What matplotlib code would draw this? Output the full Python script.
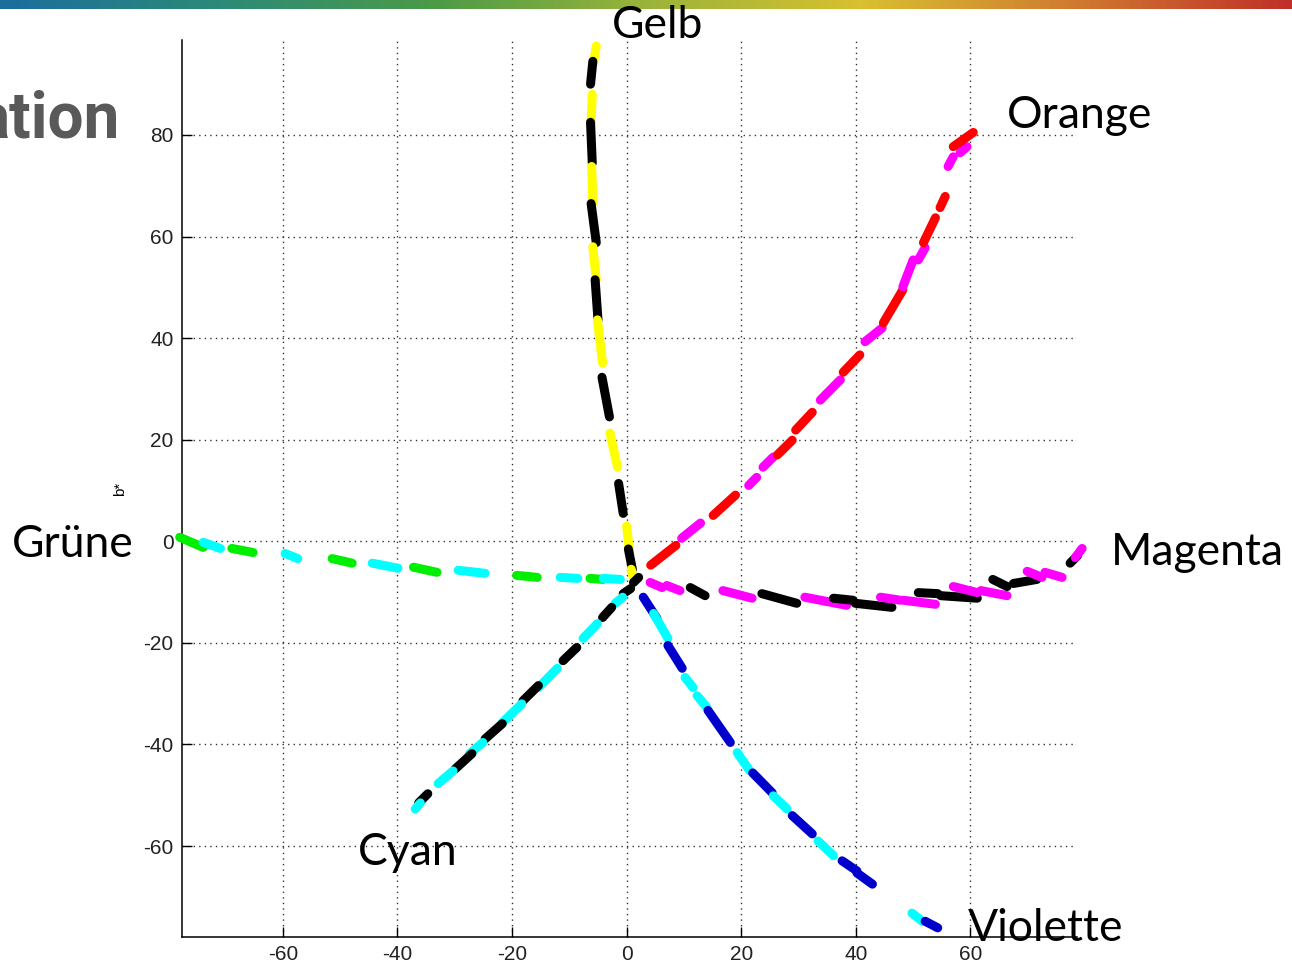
import numpy as np
import matplotlib
matplotlib.use('Agg')
import matplotlib.pyplot as plt
from matplotlib.colors import LinearSegmentedColormap

plt.rcParams['axes.unicode_minus'] = False

# dashes per hue line: (a* start, b* start, a* end, b* end, colour code)
gelb = [(-5.3, 97.5, -5.8, 94.0, 'y'), (-5.9, 94.5, -6.3, 90.0, 'k'),
        (-6.0, 88.0, -6.2, 82.5, 'y'), (-6.3, 82.5, -6.0, 74.5, 'k'),
        (-6.1, 73.8, -5.9, 66.7, 'y'), (-6.2, 66.5, -5.3, 58.8, 'k'),
        (-5.9, 58.0, -5.3, 51.5, 'y'), (-5.5, 51.5, -5.0, 43.6, 'k'),
        (-5.1, 43.6, -4.2, 35.1, 'y'), (-4.3, 32.3, -3.0, 24.5, 'k'),
        (-2.9, 21.3, -1.6, 14.6, 'y'), (-1.4, 11.4, -0.6, 5.5, 'k'),
        (0.0, 3.0, 0.5, -2.0, 'y'), (0.3, -1.5, 1.0, -5.5, 'k'),
        (0.8, -5.5, 1.2, -7.5, 'y')]

orange = [(4.2, -4.7, 8.6, -0.8, 'r'), (9.6, 0.6, 12.9, 3.6, 'm'),
          (15.1, 5.1, 19.0, 9.1, 'r'), (21.3, 11.0, 22.7, 12.6, 'm'),
          (23.8, 14.6, 25.6, 16.6, 'm'), (26.3, 17.0, 28.9, 19.9, 'r'),
          (29.5, 21.9, 32.4, 25.4, 'r'), (33.8, 27.8, 37.3, 31.8, 'm'),
          (37.8, 33.3, 40.7, 36.7, 'r'), (41.6, 39.3, 44.6, 42.0, 'm'),
          (44.8, 43.0, 48.2, 49.5, 'r'), (48.2, 50.1, 50.0, 55.4, 'm'),
          (50.9, 55.4, 52.1, 57.8, 'm'), (51.8, 58.8, 53.9, 63.7, 'r'),
          (54.7, 65.7, 55.6, 67.9, 'r'), (56.1, 73.8, 57.0, 75.7, 'm'),
          (58.2, 76.5, 59.4, 77.7, 'm'), (57.0, 77.7, 60.5, 80.5, 'r')]

magenta = [(4.1, -8.1, 6.2, -9.1, 'm'), (7.0, -8.7, 9.3, -9.7, 'm'),
           (11.1, -9.1, 13.7, -10.7, 'k'), (16.8, -9.7, 21.9, -11.2, 'm'),
           (23.6, -10.3, 29.7, -12.2, 'k'), (31.1, -11.0, 38.4, -12.6, 'm'),
           (36.1, -11.2, 39.5, -11.6, 'k'), (39.9, -12.2, 46.3, -13.0, 'k'),
           (44.3, -11.0, 47.8, -11.6, 'm'), (48.3, -11.6, 53.9, -12.4, 'm'),
           (50.9, -10.1, 54.3, -10.3, 'k'), (54.8, -10.7, 61.2, -11.2, 'k'),
           (57.0, -8.9, 61.2, -10.1, 'm'), (61.8, -9.7, 66.4, -10.7, 'm'),
           (63.9, -7.5, 66.4, -8.9, 'k'), (67.5, -8.3, 71.6, -7.5, 'k'),
           (69.9, -5.9, 72.5, -7.1, 'm'), (73.0, -6.1, 76.0, -7.1, 'm'),
           (77.4, -4.3, 78.7, -2.8, 'k'), (78.3, -3.2, 79.5, -1.4, 'm')]

gruene = [(-78.0, 0.8, -73.9, -1.2, 'g'), (-73.9, -0.2, -70.9, -1.4, 'c'),
          (-68.9, -1.4, -65.2, -2.2, 'g'), (-59.6, -2.4, -57.4, -3.4, 'c'),
          (-51.4, -3.4, -47.9, -4.3, 'g'), (-44.4, -4.3, -39.9, -5.3, 'c'),
          (-37.2, -5.1, -33.1, -6.1, 'g'), (-29.4, -5.7, -24.7, -6.3, 'c'),
          (-19.2, -6.7, -15.6, -7.1, 'g'), (-11.6, -7.1, -8.5, -7.3, 'c'),
          (-6.4, -7.3, -4.1, -7.5, 'g'), (-4.1, -7.3, -1.1, -7.5, 'c')]

cyan = [(2.1, -7.1, 1.2, -8.1, 'k'), (0.7, -9.3, -0.6, -10.3, 'k'),
        (-0.7, -11.0, -2.0, -12.2, 'c'), (-2.6, -13.0, -4.2, -15.0, 'k'),
        (-5.1, -16.2, -7.6, -19.1, 'c'), (-8.7, -20.9, -11.1, -23.5, 'k'),
        (-12.1, -25.0, -15.4, -28.8, 'c'), (-15.4, -28.4, -18.1, -31.4, 'k'),
        (-18.3, -32.0, -21.7, -35.7, 'c'), (-21.7, -35.9, -24.7, -38.9, 'k'),
        (-25.1, -39.6, -27.4, -41.8, 'c'), (-27.0, -41.8, -29.9, -44.8, 'k'),
        (-30.3, -45.2, -32.9, -47.7, 'c'), (-34.7, -49.7, -36.3, -51.5, 'k'),
        (-36.0, -51.5, -36.9, -52.7, 'c')]

violette = [(2.9, -11.0, 5.3, -15.2, 'b'), (4.7, -14.2, 7.2, -19.1, 'c'),
            (7.2, -20.5, 9.7, -25.0, 'b'), (10.2, -26.8, 11.6, -28.8, 'c'),
            (12.3, -30.4, 14.0, -32.7, 'c'), (14.2, -33.3, 18.1, -39.6, 'b'),
            (19.3, -41.6, 21.5, -45.2, 'c'), (22.0, -45.6, 25.4, -49.5, 'b'),
            (25.6, -50.1, 28.0, -52.7, 'c'), (28.9, -54.0, 32.4, -57.6, 'b'),
            (33.4, -59.0, 36.1, -61.9, 'c'), (37.6, -62.9, 40.2, -64.9, 'b'),
            (40.2, -65.3, 42.9, -67.5, 'b'), (49.8, -73.2, 51.6, -74.8, 'c'),
            (52.1, -74.8, 54.3, -76.1, 'b')]

# hue names and where they sit on the slide (pixels)
names = ['Gelb', 'Orange', 'Magenta', 'Grüne', 'Cyan', 'Violette']
name_px = [(658, 38), (1080, 128), (1197, 565), (73, 557), (408, 865), (1046, 941)]

xticks = [-60, -40, -20, 0, 20, 40, 60]
yticks = [-60, -40, -20, 0, 20, 40, 60, 80]

colours = {'y': '#ffff00', 'k': '#000000', 'r': '#ff0000', 'm': '#ff00ff',
           'g': '#00ee00', 'c': '#00ffff', 'b': '#0000cc'}

W, H = 1292, 965
fig = plt.figure(figsize=(W / 100, H / 100), dpi=100)

# rainbow strip on top of the slide
bar = fig.add_axes([0, 1 - 9 / H, 1, 9 / H])
cmap = LinearSegmentedColormap.from_list('strip', ['#1c6e9e', '#2b8a78', '#4b9a48', '#9ab43a',
                                                   '#d8c030', '#d07a30', '#c0302a'])
bar.imshow(np.linspace(0, 1, 256)[None, :], aspect='auto', cmap=cmap)
bar.axis('off')

ax = fig.add_axes([182 / W, 1 - 937 / H, (1077 - 182) / W, (937 - 40) / H])
for curve in [gelb, orange, magenta, gruene, cyan, violette]:
    for a1, b1, a2, b2, c in curve:
        ax.plot([a1, a2], [b1, b2], color=colours[c], lw=6.5,
                solid_capstyle='round', clip_on=False, zorder=3)

ax.set_xlim(-77.6, 78.6)
ax.set_ylim(-77.9, 98.7)
ax.set_xticks(xticks)
ax.set_yticks(yticks)
ax.spines['top'].set_visible(False)
ax.spines['right'].set_visible(False)
for s in ['left', 'bottom']:
    ax.spines[s].set_linewidth(1.1)
ax.tick_params(direction='in', length=7, width=1, pad=6, labelsize=15)
for lab in ax.get_xticklabels() + ax.get_yticklabels():
    lab.set_family(['Liberation Sans Narrow', 'Liberation Sans', 'DejaVu Sans'])
    lab.set_color('#222222')
ax.grid(True, color='#333333', linestyle=(0, (1, 3)), lw=1.0)
ax.set_axisbelow(True)
ax.set_ylabel('b*', fontsize=11, family=['Liberation Sans', 'DejaVu Sans'], labelpad=12)

for n, (px, py) in zip(names, name_px):
    fig.text(px / W, 1 - py / H, n, ha='center', va='baseline', fontsize=32,
             family=['Lato', 'DejaVu Sans'], color='black')

fig.text(120 / W, 1 - 137 / H, 'ation', ha='right', va='baseline', fontsize=46,
         fontweight='bold', family=['Roboto', 'Liberation Sans', 'DejaVu Sans'], color='#595959')

fig.savefig('out.png', dpi=100)
